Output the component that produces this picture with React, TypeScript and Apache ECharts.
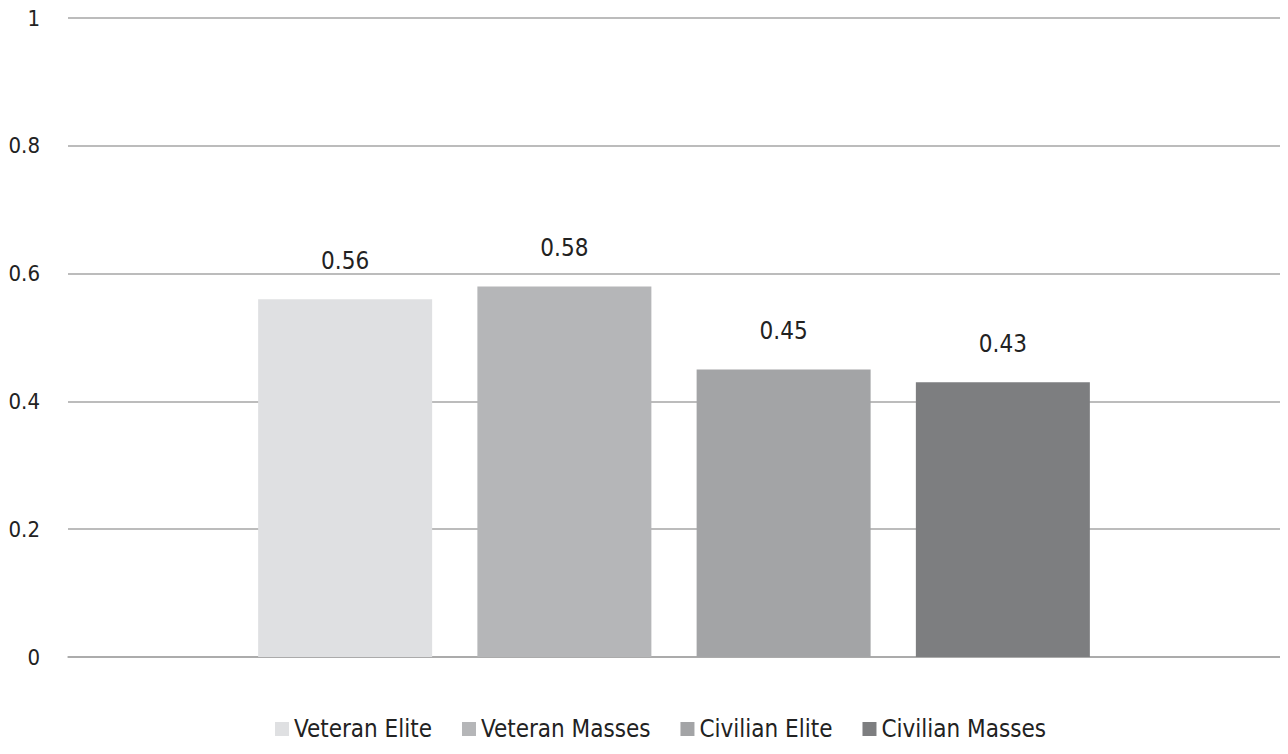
import React, { useEffect, useRef } from "react";
import * as echarts from "echarts";

const categories = [""];
const seriesNames = ["Veteran Elite", "Veteran Masses", "Civilian Elite", "Civilian Masses"];
const seriesValues = [0.56, 0.58, 0.45, 0.43];
const seriesColors = ["#DFE0E2", "#B5B6B8", "#A3A4A6", "#7D7E80"];
const yTickLabels = ["0", "0.2", "0.4", "0.6", "0.8", "1"];
const FONT = "'Liberation Sans Narrow', 'DejaVu Sans Condensed', sans-serif";

export default function App() {
  const ref = useRef<HTMLDivElement>(null);
  useEffect(() => {
    if (!ref.current) return;
    const chart = echarts.init(ref.current, undefined, { renderer: "svg" });
    chart.setOption({
      animation: false,
      backgroundColor: "#ffffff",
      textStyle: { fontFamily: FONT },
      grid: { left: 68, right: 8, top: 18, bottom: 97, containLabel: false },
      legend: {
        bottom: 8,
        left: 270,
        itemWidth: 14,
        itemHeight: 14,
        itemGap: 30,
        icon: "rect",
        textStyle: { fontFamily: FONT, fontSize: 24, color: "#222" },
        data: seriesNames,
      },
      xAxis: {
        type: "category",
        data: categories,
        axisLine: { show: true, lineStyle: { color: "#A6A6A6", width: 1.5 } },
        axisTick: { show: false },
        axisLabel: { show: false },
      },
      yAxis: {
        type: "value",
        min: 0,
        max: 1,
        interval: 0.2,
        axisLine: { show: false },
        axisTick: { show: false },
        splitLine: { lineStyle: { color: "#A6A6A6", width: 1.5 } },
        axisLabel: {
          margin: 28,
          fontFamily: FONT,
          fontSize: 22,
          color: "#222",
          formatter: (v: number) => yTickLabels[Math.round(v * 5)] ?? String(v),
        },
      },
      series: seriesNames.map((name, i) => ({
        name,
        type: "bar",
        data: [seriesValues[i]],
        barWidth: 174,
        barGap: "26%",
        itemStyle: { color: seriesColors[i] },
        label: {
          show: true,
          position: "top",
          distance: 26,
          fontFamily: FONT,
          fontSize: 24,
          color: "#222",
        },
      })),
    });
    return () => chart.dispose();
  }, []);
  return (
    <div style={{ margin: -8, width: 1288, height: 754, overflow: "hidden" }}>
      <div ref={ref} style={{ width: 1288, height: 754 }} />
    </div>
  );
}
